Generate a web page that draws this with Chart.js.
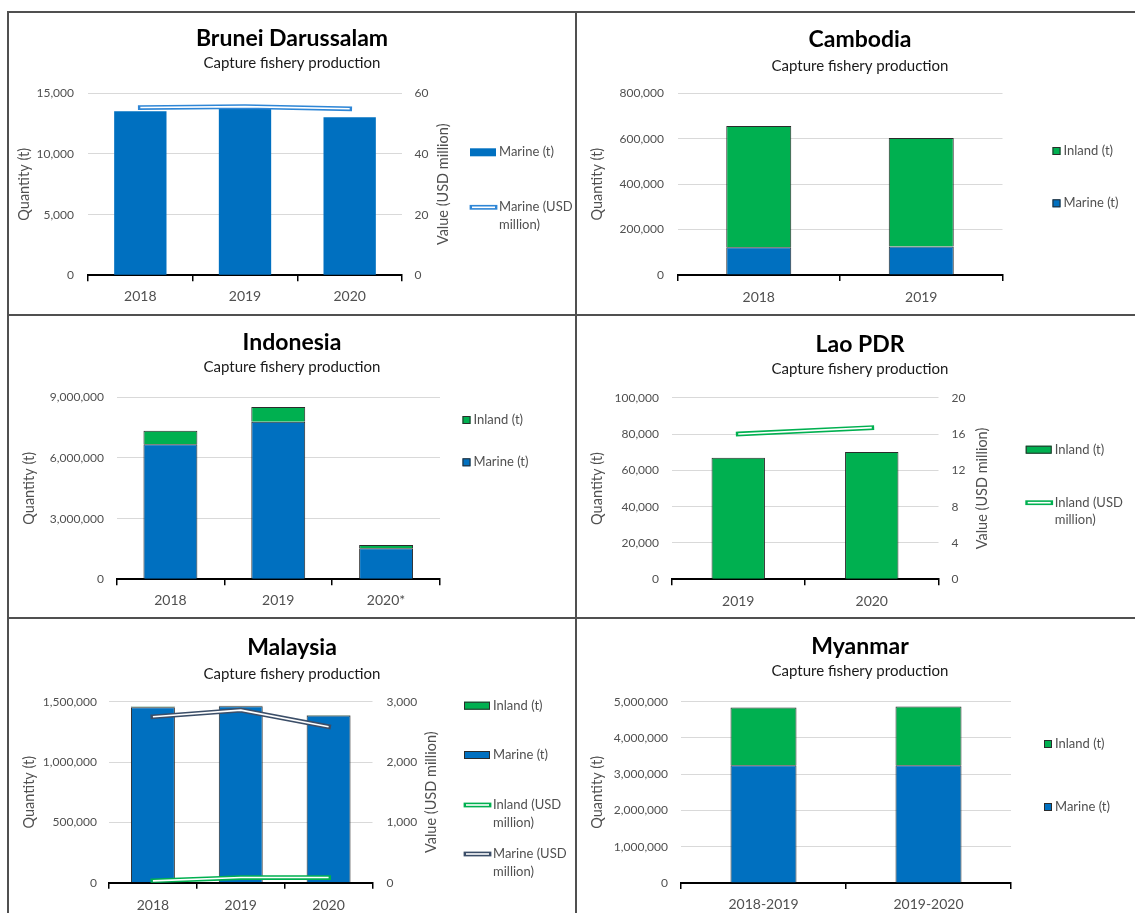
<!DOCTYPE html>
<html>
<head>
<meta charset="utf-8">
<script src="https://cdn.jsdelivr.net/npm/chart.js@4"></script>
<style>
html, body { margin: 0; padding: 0; background: #fff; overflow: hidden; }
#page { position: relative; width: 1135px; height: 913px; overflow: hidden; }
#page canvas { position: absolute; }
.rule { position: absolute; background: #505050; }
</style>
</head>
<body>
<div id="page">
  <div class="rule" style="left:7px;top:11px;width:1140px;height:2px"></div>
  <div class="rule" style="left:7px;top:314px;width:1140px;height:2px"></div>
  <div class="rule" style="left:7px;top:617px;width:1140px;height:2px"></div>
  <div class="rule" style="left:7px;top:11px;width:2px;height:910px"></div>
  <div class="rule" style="left:575px;top:11px;width:2px;height:910px"></div>
  <canvas id="brunei" width="564" height="298" style="left:10px;top:14px"></canvas>
  <canvas id="cambodia" width="564" height="298" style="left:578px;top:14px"></canvas>
  <canvas id="indonesia" width="564" height="298" style="left:10px;top:317px"></canvas>
  <canvas id="lao" width="564" height="298" style="left:578px;top:317px"></canvas>
  <canvas id="malaysia" width="564" height="298" style="left:10px;top:620px"></canvas>
  <canvas id="myanmar" width="564" height="298" style="left:578px;top:620px"></canvas>
</div>
<script>
// ---- data ----
var bruneiYears = ['2018', '2019', '2020'];
var bruneiMarineT = [13520, 13760, 13020];
var bruneiMarineUsd = [55.3, 55.6, 54.9];

var cambodiaYears = ['2018', '2019'];
var cambodiaMarineT = [122000, 125000];
var cambodiaInlandT = [534000, 478000];

var indonesiaYears = ['2018', '2019', '2020*'];
var indonesiaMarineT = [6680000, 7790000, 1540000];
var indonesiaInlandT = [670000, 730000, 150000];

var laoYears = ['2019', '2020'];
var laoInlandT = [66900, 70100];
var laoInlandUsd = [16.0, 16.7];

var malaysiaYears = ['2018', '2019', '2020'];
var malaysiaMarineT = [1455000, 1462000, 1385000];
var malaysiaInlandT = [4500, 5000, 4500];
var malaysiaInlandUsd = [30, 85, 85];
var malaysiaMarineUsd = [2750, 2860, 2585];

var myanmarYears = ['2018-2019', '2019-2020'];
var myanmarMarineT = [3250000, 3250000];
var myanmarInlandT = [1590000, 1620000];

// ---- look ----
var FONT = 'Lato, "Open Sans", sans-serif';
var GREY = '#505050';
var BLUE = '#0070C0';
var GREEN = '#00B050';
var EDGE = '#2b2b2b';
var CW = 564, CH = 298;
var TITLE_SIZE = 23, SUB_SIZE = 15, AXT_SIZE = 14.5, TICK_SIZE = 12;

// page-coordinate layout of each panel
var panels = {
  brunei:    {x0: 10,  y0: 14,  area: [88, 402, 93.3, 275.3],   titleY: 38.5, subY: 63.3, qTitleX: 24,   vTitleX: 443, leftTickEnd: 74,  rightTickStart: 414.5, xLabelY: 296, legend: {x: 470,    ys: [152.3, 207.3], swatch: 'wide'}},
  cambodia:  {x0: 578, y0: 14,  area: [677.5, 1002.5, 93.3, 275], titleY: 40,   subY: 66.5, qTitleX: 597,  leftTickEnd: 664, xLabelY: 297, legend: {x: 1052.5, ys: [151, 203.3], swatch: 'square'}},
  indonesia: {x0: 10,  y0: 317, area: [116.5, 440, 397.3, 579.3], titleY: 343,  subY: 367.5, qTitleX: 29.6, leftTickEnd: 104, xLabelY: 600, legend: {x: 462.5, ys: [420, 462.3], swatch: 'square'}},
  lao:       {x0: 578, y0: 317, area: [671.5, 938.5, 397.7, 579.3], titleY: 344.5, subY: 369, qTitleX: 597, vTitleX: 982, leftTickEnd: 659, rightTickStart: 951.5, xLabelY: 601, legend: {x: 1025.7, ys: [449.7, 502.7], swatch: 'wide'}},
  malaysia:  {x0: 10,  y0: 620, area: [109, 372.5, 701.7, 882.7], titleY: 648,  subY: 674,  qTitleX: 29.6, vTitleX: 431, leftTickEnd: 97, rightTickStart: 386.6, xLabelY: 905, legend: {x: 464, ys: [705.7, 755, 805, 854], swatch: 'wide'}},
  myanmar:   {x0: 578, y0: 620, area: [681, 1011, 701.7, 883],    titleY: 647,  subY: 671.5, qTitleX: 597, leftTickEnd: 668, xLabelY: 904, legend: {x: 1044, ys: [744, 807], swatch: 'square'}}
};

function fmt(v) { return Number(v).toLocaleString('en-US'); }

function barSet(label, data, color, edge) {
  return {type: 'bar', label: label, data: data, backgroundColor: color,
    borderColor: EDGE, borderWidth: edge ? 1 : 0, yAxisID: 'y', order: 2};
}
function lineSet(label, data, color) {
  return {type: 'line', label: label, data: data, borderColor: color, backgroundColor: color,
    borderWidth: 4.8, borderCapStyle: 'square', borderJoinStyle: 'round', pointRadius: 0,
    tension: 0, yAxisID: 'y2', order: 0, compound: true};
}

// white core on top of the coloured line -> Excel style double line
var compoundLines = {
  id: 'compoundLines',
  afterDatasetDraw: function(chart, args) {
    var ds = chart.data.datasets[args.index];
    if (!ds.compound) return;
    var pts = args.meta.data, ctx = chart.ctx;
    ctx.save();
    ctx.strokeStyle = '#fff';
    ctx.lineWidth = 1.6;
    ctx.lineJoin = 'round';
    ctx.beginPath();
    pts.forEach(function(p, i) { if (i) ctx.lineTo(p.x, p.y); else ctx.moveTo(p.x, p.y); });
    ctx.stroke();
    ctx.restore();
  }
};

// right axis title, reads bottom to top like the left one
var valueTitle = {
  id: 'valueTitle',
  afterDraw: function(chart, args, opts) {
    if (!opts.text) return;
    var ctx = chart.ctx, a = chart.chartArea;
    ctx.save();
    ctx.translate(opts.x, (a.top + a.bottom) / 2);
    ctx.rotate(-Math.PI / 2);
    ctx.font = AXT_SIZE + 'px ' + FONT;
    ctx.fillStyle = GREY;
    ctx.textAlign = 'center';
    ctx.textBaseline = 'middle';
    ctx.fillText(opts.text, 0, 0);
    ctx.restore();
  }
};

function wrap(ctx, text, maxW) {
  var words = text.split(' '), lines = [], cur = '';
  words.forEach(function(w) {
    var t = cur ? cur + ' ' + w : w;
    if (cur && ctx.measureText(t).width > maxW) { lines.push(cur); cur = w; } else cur = t;
  });
  lines.push(cur);
  return lines;
}

var sideLegend = {
  id: 'sideLegend',
  afterDraw: function(chart, args, opts) {
    if (!opts.order) return;
    var ctx = chart.ctx;
    ctx.save();
    ctx.font = '13px ' + FONT;
    ctx.textBaseline = 'middle';
    opts.order.forEach(function(di, k) {
      var ds = chart.data.datasets[di];
      var x = opts.x, y = opts.ys[k], tx;
      if (ds.type === 'line') {
        ctx.lineCap = 'square';
        ctx.strokeStyle = ds.borderColor; ctx.lineWidth = 4.8;
        ctx.beginPath(); ctx.moveTo(x + 2, y); ctx.lineTo(x + 25, y); ctx.stroke();
        ctx.lineCap = 'butt';
        ctx.strokeStyle = '#fff'; ctx.lineWidth = 1.6;
        ctx.beginPath(); ctx.moveTo(x + 2, y); ctx.lineTo(x + 25, y); ctx.stroke();
        tx = x + 29;
      } else {
        var w = opts.swatch === 'wide' ? 26 : 8;
        ctx.fillStyle = ds.backgroundColor;
        ctx.fillRect(x, y - 4, w, 8);
        if (ds.borderWidth) { ctx.strokeStyle = EDGE; ctx.lineWidth = 1; ctx.strokeRect(x + 0.5, y - 3.5, w - 1, 7); }
        tx = x + w + 3;
      }
      ctx.fillStyle = GREY;
      wrap(ctx, ds.label, 80).forEach(function(line, j) { ctx.fillText(line, tx, y + j * 17.5); });
    });
    ctx.restore();
  }
};

function makeChart(id, title, labels, datasets, yMax, yStep, y2, legendOrder, stacked) {
  var g = panels[id];
  var L = g.area[0], R = g.area[1], T = g.area[2], B = g.area[3];
  var tC = g.titleY - g.y0, sC = g.subY - g.y0;
  var tH = TITLE_SIZE * 0.6, sH = SUB_SIZE * 0.6;
  var titlePadTop = tC - tH;
  var subPadTop = Math.max(0, (sC - sH) - (tC + tH));
  var subPadBottom = (T - g.y0) - (Math.max(sC - sH, tC + tH) + 2 * sH);
  return new Chart(document.getElementById(id), {
    data: {labels: labels, datasets: datasets},
    plugins: [compoundLines, valueTitle, sideLegend],
    options: {
      responsive: false,
      animation: false,
      layout: {padding: 0},
      plugins: {
        legend: {display: false},
        tooltip: {enabled: false},
        title: {display: true, text: title, color: '#000',
          font: {family: FONT, size: TITLE_SIZE, weight: 'bold'}, padding: {top: titlePadTop, bottom: 0}},
        subtitle: {display: true, text: 'Capture fishery production', color: '#1a1a1a',
          font: {family: FONT, size: SUB_SIZE}, padding: {top: subPadTop, bottom: subPadBottom}},
        valueTitle: {text: y2 ? 'Value (USD million)' : '', x: (g.vTitleX || 0) - g.x0},
        sideLegend: {order: legendOrder, x: g.legend.x - g.x0,
          ys: g.legend.ys.map(function(v) { return v - g.y0; }), swatch: g.legend.swatch}
      },
      scales: {
        x: {
          stacked: stacked, offset: true,
          grid: {offset: true, drawOnChartArea: false, drawTicks: true, tickLength: 6, color: '#000', lineWidth: 1.5},
          border: {display: true, color: '#000', width: 2},
          ticks: {font: {family: FONT, size: 14}, color: GREY, padding: g.xLabelY - B - 6 - 8.4},
          afterFit: function(s) { s.height = g.y0 + CH - B; }
        },
        y: {
          stacked: stacked, position: 'left', min: 0, max: yMax,
          ticks: {stepSize: yStep, callback: fmt, font: {family: FONT, size: TICK_SIZE}, color: GREY, padding: L - g.leftTickEnd},
          grid: {color: '#d9d9d9', lineWidth: 1, drawTicks: false},
          border: {display: false},
          title: {display: true, text: 'Quantity (t)', color: GREY, font: {family: FONT, size: AXT_SIZE},
            padding: {top: g.qTitleX - g.x0 - AXT_SIZE * 0.6, bottom: 0}},
          afterFit: function(s) { s.width = L - g.x0; }
        },
        y2: {
          position: 'right', min: 0, max: y2 ? y2.max : 1,
          ticks: {display: !!y2, stepSize: y2 ? y2.step : 1, callback: fmt, font: {family: FONT, size: TICK_SIZE}, color: GREY,
            padding: (g.rightTickStart || R) - R},
          grid: {display: false, drawTicks: false},
          border: {display: false},
          afterFit: function(s) { s.width = g.x0 + CW - R; }
        }
      }
    }
  });
}

function drawAll() {
  makeChart('brunei', 'Brunei Darussalam', bruneiYears, [
    barSet('Marine (t)', bruneiMarineT, BLUE, false),
    lineSet('Marine (USD million)', bruneiMarineUsd, '#2E86D6')
  ], 15000, 5000, {max: 60, step: 20}, [0, 1], false);

  makeChart('cambodia', 'Cambodia', cambodiaYears, [
    Object.assign(barSet('Marine (t)', cambodiaMarineT, BLUE, true), {barPercentage: 0.4, categoryPercentage: 1}),
    Object.assign(barSet('Inland (t)', cambodiaInlandT, GREEN, true), {barPercentage: 0.4, categoryPercentage: 1})
  ], 800000, 200000, null, [1, 0], true);

  makeChart('indonesia', 'Indonesia', indonesiaYears, [
    barSet('Marine (t)', indonesiaMarineT, BLUE, true),
    barSet('Inland (t)', indonesiaInlandT, GREEN, true)
  ], 9000000, 3000000, null, [1, 0], true);

  makeChart('lao', 'Lao PDR', laoYears, [
    Object.assign(barSet('Inland (t)', laoInlandT, GREEN, true), {barPercentage: 0.4, categoryPercentage: 1}),
    lineSet('Inland (USD million)', laoInlandUsd, GREEN)
  ], 100000, 20000, {max: 20, step: 4}, [0, 1], false);

  makeChart('malaysia', 'Malaysia', malaysiaYears, [
    barSet('Marine (t)', malaysiaMarineT, BLUE, true),
    barSet('Inland (t)', malaysiaInlandT, GREEN, true),
    lineSet('Inland (USD million)', malaysiaInlandUsd, GREEN),
    lineSet('Marine (USD million)', malaysiaMarineUsd, '#3B4E68')
  ], 1500000, 500000, {max: 3000, step: 1000}, [1, 0, 2, 3], true);

  makeChart('myanmar', 'Myanmar', myanmarYears, [
    Object.assign(barSet('Marine (t)', myanmarMarineT, BLUE, true), {barPercentage: 0.4, categoryPercentage: 1}),
    Object.assign(barSet('Inland (t)', myanmarInlandT, GREEN, true), {barPercentage: 0.4, categoryPercentage: 1})
  ], 5000000, 1000000, null, [1, 0], true);
}

Chart.defaults.datasets.bar.barPercentage = 0.5;
Chart.defaults.datasets.bar.categoryPercentage = 1;

Promise.all(['12px Lato', '13px Lato', '14px Lato', '15px Lato', 'bold 23px Lato'].map(function(f) { return document.fonts.load(f); }))
  .then(drawAll, drawAll);
</script>
</body>
</html>
